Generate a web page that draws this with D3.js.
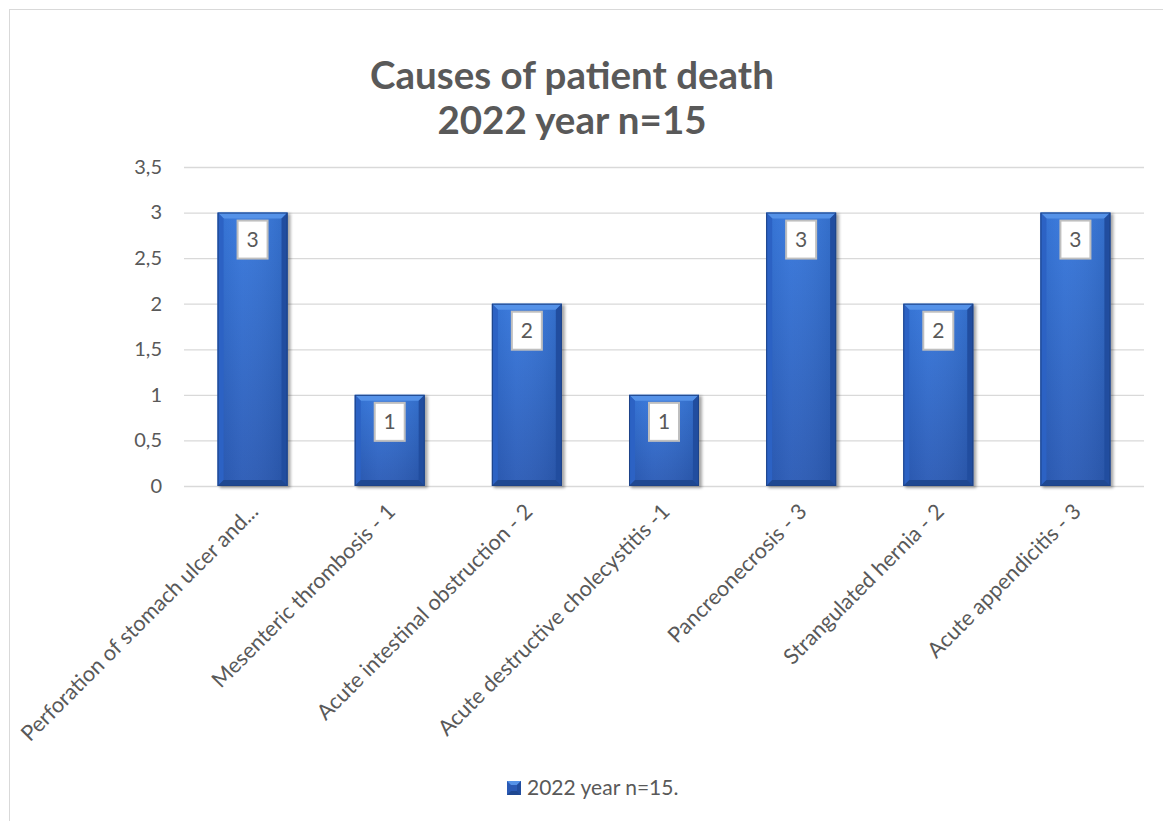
<!DOCTYPE html>
<html>
<head>
<meta charset="utf-8">
<script src="https://cdn.jsdelivr.net/npm/d3@7/dist/d3.min.js"></script>
<style>
  body { margin: 0; background: #fff; }
  svg { display: block; }
  text { font-family: Lato, "Open Sans", sans-serif; fill: #595959; }
</style>
</head>
<body>
<div id="chart"></div>
<script>
const categories = [
  "Perforation of stomach ulcer and...",
  "Mesenteric thrombosis - 1",
  "Acute intestinal obstruction - 2",
  "Acute destructive cholecystitis -1",
  "Pancreonecrosis - 3",
  "Strangulated hernia - 2",
  "Acute appendicitis - 3"
];
const values = [3, 1, 2, 1, 3, 2, 3];
const yTicks = [0, 0.5, 1, 1.5, 2, 2.5, 3, 3.5];
const seriesName = "2022 year n=15.";
const titleLines = ["Causes of patient death", "2022 year n=15"];

const W = 1163, H = 821;
const plot = { left: 184, right: 1144, top: 167, bottom: 486 };

const svg = d3.select("#chart").append("svg")
  .attr("width", W)
  .attr("height", H);

// gradients for the bevelled bars
const defs = svg.append("defs");
const face = defs.append("linearGradient").attr("id", "face")
  .attr("x1", 0).attr("y1", 0).attr("x2", 0).attr("y2", 1);
face.append("stop").attr("offset", "0%").attr("stop-color", "#3677dc");
face.append("stop").attr("offset", "100%").attr("stop-color", "#2a5ab5");
const faceH = defs.append("linearGradient").attr("id", "faceH")
  .attr("x1", 0).attr("y1", 0).attr("x2", 1).attr("y2", 0);
faceH.append("stop").attr("offset", "0%").attr("stop-color", "#000").attr("stop-opacity", 0.05);
faceH.append("stop").attr("offset", "35%").attr("stop-color", "#fff").attr("stop-opacity", 0.04);
faceH.append("stop").attr("offset", "100%").attr("stop-color", "#000").attr("stop-opacity", 0.1);
defs.append("filter").attr("id", "shadow")
  .attr("x", "-20%").attr("y", "-20%").attr("width", "140%").attr("height", "140%")
  .append("feGaussianBlur").attr("stdDeviation", 1.6);

// chart frame
svg.append("rect")
  .attr("x", 9.5).attr("y", 9.5)
  .attr("width", W + 20).attr("height", H + 20)
  .attr("fill", "none")
  .attr("stroke", "#d9d9d9")
  .attr("stroke-width", 1);

const x = d3.scaleBand()
  .domain(categories)
  .range([plot.left, plot.right])
  .paddingInner(0.49)
  .paddingOuter(0.245);

const y = d3.scaleLinear()
  .domain([0, 3.5])
  .range([plot.bottom, plot.top]);

// y axis with gridlines
const yAxis = svg.append("g")
  .attr("transform", `translate(${plot.left},0)`)
  .call(d3.axisLeft(y)
    .tickValues(yTicks)
    .tickSize(-(plot.right - plot.left))
    .tickPadding(22)
    .tickFormat(d => String(d).replace(".", ",")));
yAxis.select(".domain").remove();
yAxis.selectAll("line").attr("stroke", "#d9d9d9").attr("stroke-width", 1.3);
yAxis.selectAll("text")
  .style("font-size", "20px")
  .attr("fill", "#595959");

// x axis labels
const xAxis = svg.append("g")
  .attr("transform", `translate(0,${plot.bottom})`)
  .call(d3.axisBottom(x).tickSize(0));
xAxis.select(".domain").remove();
xAxis.selectAll("text")
  .attr("y", 0)
  .attr("dy", 0)
  .attr("text-anchor", "end")
  .attr("transform", "translate(7,27) rotate(-45)")
  .style("font-size", "21.6px")
  .attr("fill", "#595959");

// bars
const bev = 6;
const bars = svg.append("g").selectAll("g")
  .data(values)
  .join("g");

bars.each(function(v, i) {
  const g = d3.select(this);
  const x0 = x(categories[i]), w = x.bandwidth();
  const y0 = y(v), y1 = y(0);
  g.append("rect")
    .attr("x", x0 + 2).attr("y", y0 + 1)
    .attr("width", w + 1).attr("height", y1 - y0 + 1)
    .attr("fill", "#000").attr("opacity", 0.35)
    .attr("filter", "url(#shadow)");
  g.append("rect")
    .attr("x", x0).attr("y", y0)
    .attr("width", w).attr("height", y1 - y0)
    .attr("fill", "url(#face)");
  g.append("rect")
    .attr("x", x0).attr("y", y0)
    .attr("width", w).attr("height", y1 - y0)
    .attr("fill", "url(#faceH)");
  const poly = (pts, fill) => g.append("polygon")
    .attr("points", pts.map(p => p.join(",")).join(" "))
    .attr("fill", fill);
  poly([[x0, y0], [x0 + w, y0], [x0 + w - bev, y0 + bev], [x0 + bev, y0 + bev]], "#5592e8");
  poly([[x0, y0], [x0 + bev, y0 + bev], [x0 + bev, y1 - bev], [x0, y1]], "#2c62c4");
  poly([[x0 + w, y0], [x0 + w, y1], [x0 + w - bev, y1 - bev], [x0 + w - bev, y0 + bev]], "#214d9f");
  poly([[x0, y1], [x0 + bev, y1 - bev], [x0 + w - bev, y1 - bev], [x0 + w, y1]], "#1f4891");
  g.append("rect")
    .attr("x", x0 + 0.5).attr("y", y0 + 0.5)
    .attr("width", w - 1).attr("height", y1 - y0 - 1)
    .attr("fill", "none").attr("stroke", "#1d4388").attr("stroke-width", 1);

  // data label
  const cx = x0 + w / 2;
  g.append("rect")
    .attr("x", cx - 15).attr("y", y0 + 8)
    .attr("width", 30).attr("height", 38)
    .attr("fill", "#fff")
    .attr("stroke", "#bfbfbf")
    .attr("stroke-width", 2);
  g.append("text")
    .attr("x", cx).attr("y", y0 + 27)
    .attr("dy", "0.35em")
    .attr("text-anchor", "middle")
    .style("font-size", "21px")
    .attr("fill", "#404040")
    .text(v);
});

// title
svg.append("g").selectAll("text")
  .data(titleLines)
  .join("text")
  .attr("x", 572)
  .attr("y", (d, i) => 89 + i * 45)
  .attr("text-anchor", "middle")
  .style("font-size", "38.5px")
  .style("font-weight", "bold")
  .attr("fill", "#595959")
  .text(d => d);

// legend
const legend = svg.append("g").attr("transform", "translate(507,781)");
legend.append("rect").attr("width", 14).attr("height", 14).attr("fill", "#2a5ab5");
legend.append("polygon").attr("points", "0,0 14,0 10,4 4,4").attr("fill", "#5592e8");
legend.append("polygon").attr("points", "14,0 14,14 10,10 10,4").attr("fill", "#214d9f");
legend.append("polygon").attr("points", "0,14 4,10 10,10 14,14").attr("fill", "#1f4891");
legend.append("text")
  .attr("x", 20).attr("y", 7)
  .attr("dy", "0.35em")
  .style("font-size", "21px")
  .attr("fill", "#595959")
  .text(seriesName);
</script>
</body>
</html>
